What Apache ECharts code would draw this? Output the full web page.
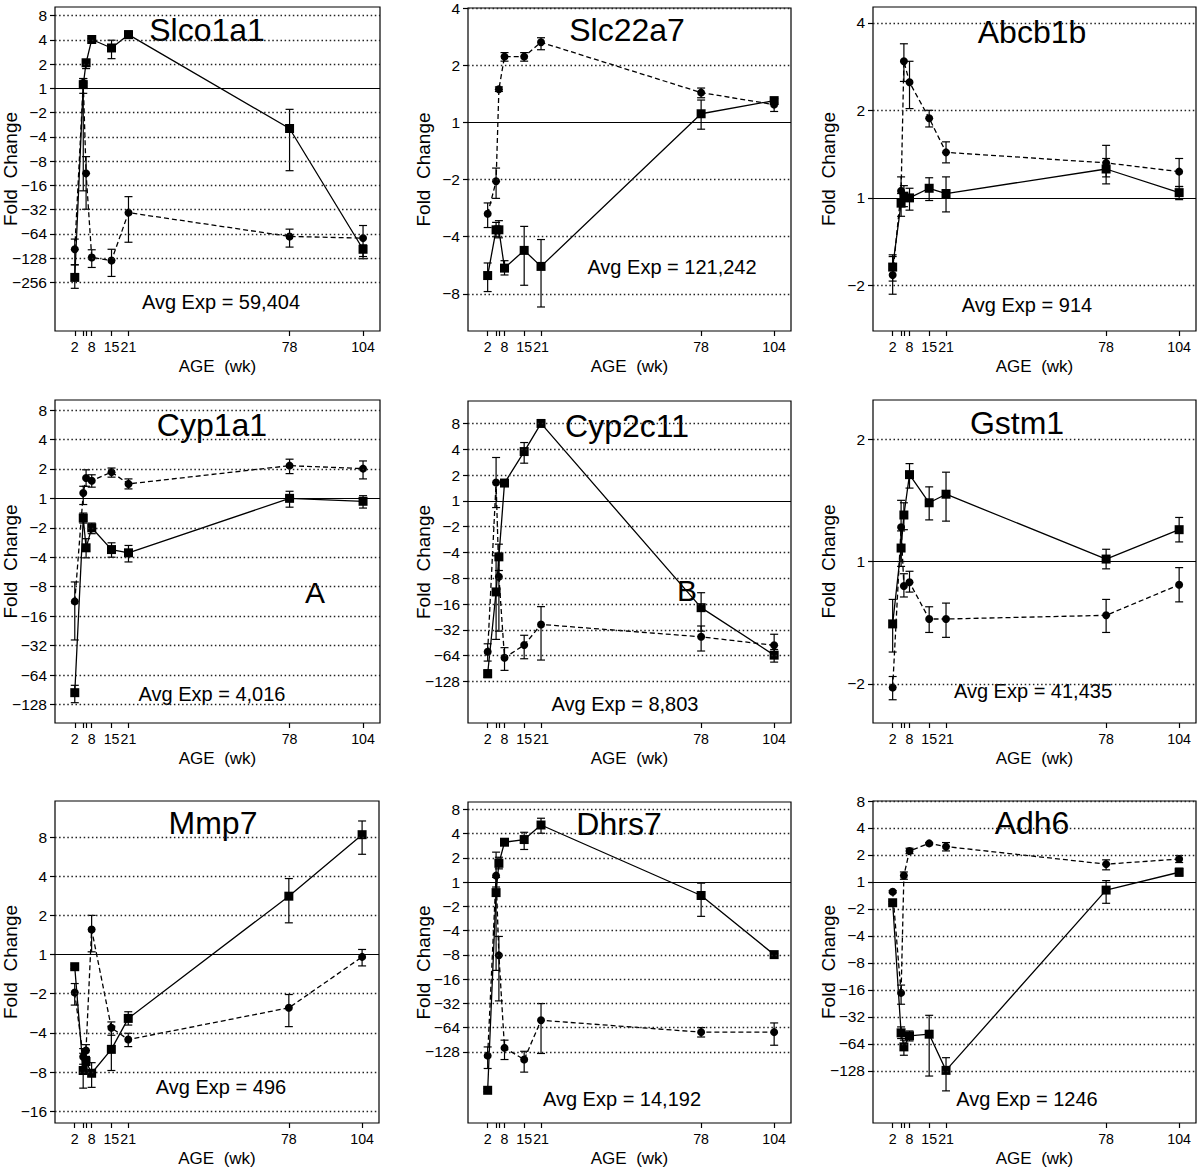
<!DOCTYPE html>
<html><head><meta charset="utf-8">
<script src="https://cdn.jsdelivr.net/npm/echarts@6/dist/echarts.min.js"></script>
<style>html,body{margin:0;padding:0;background:#fff}#c{width:1200px;height:1169px}</style>
</head><body><div id="c"></div><script>
// ---- data (values are log2 fold change: +1 = 2-fold up, -1 = 2-fold down) ----
const ages = [2, 5, 6, 8, 15, 21, 78, 104];
const xTickAges = [2, 5, 6, 8, 15, 21, 78, 104];
const xLabelAges = [2, 8, 15, 21, 78, 104];

const slco1a1Sq = [-7.79, 0.16, 1.06, 2.02, 1.67, 2.22, -1.65, -6.63];
const slco1a1SqErr = [[-8.24,-7.27],[-0.2,0.41],[0.82,1.19],[1.97,2.06],[1.23,1.99],[2.09,2.37],[-3.39,-0.86],[-7.02,-6.45]];
const slco1a1Ci = [-6.63, 0.23, -3.5, -6.97, -7.09, -5.12, -6.1, -6.17];
const slco1a1CiErr = [[-7.27,-6.21],[-4.22,0.41],[-4.98,-2.81],[-7.38,-6.65],[-7.75,-6.63],[-6.34,-4.46],[-6.54,-5.8],[-6.93,-5.65]];
const slco1a1Ticks = [8, 4, 2, 1, -2, -4, -8, -16, -32, -64, -128, -256];

const slc22a7Sq = [-2.68, -1.88, -1.88, -2.55, -2.24, -2.52, 0.15, 0.38];
const slc22a7SqErr = [[-2.96,-2.46],[-2.0,-1.75],[-2.02,-1.72],[-2.67,-2.42],[-2.85,-1.82],[-3.23,-2.05],[-0.12,0.39],[0.34,0.42]];
const slc22a7Ci = [-1.6, -1.03, 0.58, 1.15, 1.15, 1.4, 0.52, 0.31];
const slc22a7CiErr = [[-1.84,-1.41],[-1.33,-0.8],[0.54,0.62],[1.07,1.22],[1.07,1.22],[1.27,1.48],[0.43,0.6],[0.19,0.41]];
const slc22a7Ticks = [4, 2, 1, -2, -4, -8];

const abcb1bSq = [-0.79, -0.06, 0.02, 0, 0.11, 0.05, 0.33, 0.06];
const abcb1bSqErr = [[-0.95,-0.65],[-0.21,0.05],[-0.1,0.14],[-0.14,0.11],[-0.03,0.23],[-0.16,0.24],[0.16,0.45],[-0.02,0.13]];
const abcb1bCi = [-0.88, 0.08, 1.56, 1.32, 0.91, 0.52, 0.4, 0.3];
const abcb1bCiErr = [[-1.1,-0.67],[-0.06,0.24],[1.33,1.76],[1.02,1.56],[0.81,1.0],[0.4,0.64],[0.24,0.6],[0.13,0.45]];
const abcb1bTicks = [4, 2, 1, -2];

const cyp1a1Sq = [-6.6, -0.67, -1.68, -1.0, -1.74, -1.85, 0, -0.1];
const cyp1a1SqErr = [[-6.94,-6.35],[-0.84,-0.5],[-2.02,-1.37],[-1.2,-0.84],[-2.0,-1.51],[-2.16,-1.6],[-0.3,0.24],[-0.33,0.09]];
const cyp1a1Ci = [-3.5, 0.18, 0.69, 0.6, 0.89, 0.49, 1.11, 1.01];
const cyp1a1CiErr = [[-4.81,-2.84],[-0.21,0.41],[0.41,0.97],[0.38,0.8],[0.72,1.03],[0.32,0.66],[0.84,1.33],[0.66,1.27]];
const cyp1a1Ticks = [8, 4, 2, 1, -2, -4, -8, -16, -32, -64, -128];

const cyp2c11Sq = [-6.7, -3.53, -2.17, 0.69, 1.91, 3.0, -4.14, -5.98];
const cyp2c11SqErr = [[-6.85,-6.55],[-5.37,-2.13],[-2.7,-1.68],[0.65,0.73],[1.46,2.26],[2.95,3.05],[-5.05,-3.56],[-6.25,-5.76]];
const cyp2c11Ci = [-5.85, 0.71, -2.94, -6.08, -5.59, -4.79, -5.27, -5.6];
const cyp2c11CiErr = [[-6.21,-5.54],[-0.26,1.68],[-5.05,-2.2],[-6.57,-5.69],[-6.12,-5.21],[-6.17,-4.1],[-5.82,-4.85],[-6.02,-5.17]];
const cyp2c11Ticks = [8, 4, 2, 1, -2, -4, -8, -16, -32, -64, -128];

const gstm1Sq = [-0.51, 0.11, 0.38, 0.71, 0.48, 0.55, 0.02, 0.26];
const gstm1SqErr = [[-0.74,-0.31],[-0.04,0.25],[0.26,0.48],[0.6,0.8],[0.34,0.61],[0.33,0.73],[-0.06,0.1],[0.16,0.36]];
const gstm1Ci = [-1.03, 0.28, -0.2, -0.17, -0.47, -0.47, -0.44, -0.19];
const gstm1CiErr = [[-1.13,-0.94],[0.0,0.5],[-0.29,-0.1],[-0.25,-0.08],[-0.58,-0.37],[-0.62,-0.34],[-0.58,-0.31],[-0.33,-0.05]];
const gstm1Ticks = [2, 1, -2];

const mmp7Sq = [-0.31, -2.96, -2.73, -3.03, -2.42, -1.63, 1.49, 3.06];
const mmp7SqErr = [[-0.36,-0.26],[-3.41,-2.52],[-3.0,-2.45],[-3.39,-2.76],[-2.96,-1.83],[-1.8,-1.46],[0.81,1.94],[2.56,3.41]];
const mmp7Ci = [-0.97, -2.61, -2.45, 0.64, -1.87, -2.17, -1.36, -0.06];
const mmp7CiErr = [[-1.29,-0.74],[-2.8,-2.4],[-2.6,-2.3],[0.07,1.0],[-2.06,-1.72],[-2.35,-2.01],[-1.84,-1.02],[-0.29,0.13]];
const mmp7Ticks = [8, 4, 2, 1, -2, -4, -8, -16];

const dhrs7Sq = [-8.59, -0.43, 0.78, 1.65, 1.76, 2.36, -0.55, -2.99];
const dhrs7SqErr = [[-8.65,-8.53],[-3.64,0.2],[0.55,1.03],[1.6,1.7],[1.35,2.06],[2.02,2.64],[-1.41,-0.04],[-3.04,-2.94]];
const dhrs7Ci = [-7.16, 0.27, -3.02, -6.84, -7.32, -5.7, -6.19, -6.19];
const dhrs7CiErr = [[-7.69,-6.8],[-0.2,1.24],[-4.9,-2.24],[-7.32,-6.52],[-7.84,-6.98],[-7.07,-5.01],[-6.39,-6.0],[-6.73,-5.81]];
const dhrs7Ticks = [8, 4, 2, 1, -2, -4, -8, -16, -32, -64, -128];

const adh6Sq = [-0.77, -5.59, -6.11, -5.7, -5.64, -6.98, -0.3, 0.36];
const adh6SqErr = [[-0.82,-0.72],[-5.8,-5.37],[-6.42,-5.86],[-5.89,-5.52],[-7.19,-4.94],[-7.74,-6.51],[-0.79,0.05],[0.22,0.51]];
const adh6Ci = [-0.36, -4.11, 0.24, 1.15, 1.43, 1.31, 0.66, 0.85];
const adh6CiErr = [[-0.4,-0.32],[-4.53,-3.82],[0.1,0.37],[1.05,1.25],[1.4,1.46],[1.15,1.46],[0.45,0.82],[0.72,0.98]];
const adh6Ticks = [8, 4, 2, 1, -2, -4, -8, -16, -32, -64, -128];

const geneNames = ['Slco1a1','Slc22a7','Abcb1b','Cyp1a1','Cyp2c11','Gstm1','Mmp7','Dhrs7','Adh6'];
const avgExpTexts = ['Avg Exp = 59,404','Avg Exp = 121,242','Avg Exp = 914','Avg Exp = 4,016','Avg Exp = 8,803','Avg Exp = 41,435','Avg Exp = 496','Avg Exp = 14,192','Avg Exp = 1246'];

const panels = [
  {sq: slco1a1Sq, sqErr: slco1a1SqErr, ci: slco1a1Ci, ciErr: slco1a1CiErr, ticks: slco1a1Ticks},
  {sq: slc22a7Sq, sqErr: slc22a7SqErr, ci: slc22a7Ci, ciErr: slc22a7CiErr, ticks: slc22a7Ticks},
  {sq: abcb1bSq, sqErr: abcb1bSqErr, ci: abcb1bCi, ciErr: abcb1bCiErr, ticks: abcb1bTicks},
  {sq: cyp1a1Sq, sqErr: cyp1a1SqErr, ci: cyp1a1Ci, ciErr: cyp1a1CiErr, ticks: cyp1a1Ticks},
  {sq: cyp2c11Sq, sqErr: cyp2c11SqErr, ci: cyp2c11Ci, ciErr: cyp2c11CiErr, ticks: cyp2c11Ticks},
  {sq: gstm1Sq, sqErr: gstm1SqErr, ci: gstm1Ci, ciErr: gstm1CiErr, ticks: gstm1Ticks},
  {sq: mmp7Sq, sqErr: mmp7SqErr, ci: mmp7Ci, ciErr: mmp7CiErr, ticks: mmp7Ticks},
  {sq: dhrs7Sq, sqErr: dhrs7SqErr, ci: dhrs7Ci, ciErr: dhrs7CiErr, ticks: dhrs7Ticks},
  {sq: adh6Sq, sqErr: adh6SqErr, ci: adh6Ci, ciErr: adh6CiErr, ticks: adh6Ticks}
];

// ---- layout (pixels) ----
const layout = [
  {left:55,  top:7,   width:325, height:324, yMin:-10,   yMax:3.36, title:[207,30],  avg:[221,302]},
  {left:468, top:8,   width:323, height:323, yMin:-3.65, yMax:2.0,  title:[627,30],  avg:[672,267]},
  {left:873, top:7,   width:323, height:324, yMin:-1.52, yMax:2.18, title:[1032,32], avg:[1027,305]},
  {left:55,  top:400, width:325, height:323, yMin:-7.63, yMax:3.34, title:[212,425], avg:[212,694]},
  {left:468, top:401, width:323, height:322, yMin:-8.61, yMax:3.87, title:[627,426], avg:[625,704]},
  {left:873, top:400, width:323, height:323, yMin:-1.32, yMax:1.32, title:[1017,423], avg:[1033,691]},
  {left:55,  top:801, width:324, height:322, yMin:-4.3,  yMax:3.92, title:[213,823], avg:[221,1087]},
  {left:468, top:802, width:323, height:321, yMin:-9.94, yMax:3.31, title:[619,824], avg:[622,1099]},
  {left:873, top:801, width:323, height:322, yMin:-8.93, yMax:3.0,  title:[1032,823], avg:[1027,1099]}
];

const FONT = '"Liberation Sans", Arial, Helvetica, sans-serif';
const toLog = f => f > 0 ? Math.log2(f) : -Math.log2(-f);
const foldLabel = v => { const r = Math.round(v); return r >= 0 ? String(Math.pow(2, r)) : '\u2212' + String(Math.pow(2, -r)); };

function renderErr(params, api) {
  const x = api.value(0), lo = api.value(1), hi = api.value(2);
  const p1 = api.coord([x, lo]), p2 = api.coord([x, hi]);
  const w = 4;
  const st = {stroke: '#000', lineWidth: 1.2};
  return {type: 'group', children: [
    {type: 'line', shape: {x1: p1[0], y1: p1[1], x2: p2[0], y2: p2[1]}, style: st},
    {type: 'line', shape: {x1: p1[0]-w, y1: p1[1], x2: p1[0]+w, y2: p1[1]}, style: st},
    {type: 'line', shape: {x1: p2[0]-w, y1: p2[1], x2: p2[0]+w, y2: p2[1]}, style: st}
  ]};
}

const grids = [], xAxes = [], yAxes = [], series = [], graphics = [];
panels.forEach((p, i) => {
  const l = layout[i];
  const tickLogs = p.ticks.map(toLog);
  grids.push({left: l.left, top: l.top, width: l.width, height: l.height, show: true,
    borderColor: '#000', borderWidth: 1.2, backgroundColor: 'transparent', containLabel: false, outerBoundsMode: 'none'});
  xAxes.push({gridIndex: i, type: 'value', min: -5, max: 110,
    axisLine: {show: false, onZero: false}, splitLine: {show: false},
    axisTick: {show: true, customValues: xTickAges, length: 5, lineStyle: {color: '#000', width: 1.2}},
    axisLabel: {customValues: xLabelAges, fontSize: 14.2, color: '#000', margin: 9, fontFamily: FONT},
    name: 'AGE  (wk)', nameLocation: 'middle', nameGap: 27, nameMoveOverlap: false,
    nameTextStyle: {fontSize: 17, color: '#000', fontFamily: FONT}});
  yAxes.push({gridIndex: i, type: 'value', min: l.yMin, max: l.yMax,
    axisLine: {show: false, onZero: false}, splitLine: {show: false},
    axisTick: {show: true, customValues: tickLogs, length: 5, lineStyle: {color: '#000', width: 1.2}},
    axisLabel: {customValues: tickLogs, formatter: foldLabel, fontSize: 15.5, lineHeight: 14, color: '#000', margin: 8, fontFamily: FONT},
    name: 'Fold  Change', nameLocation: 'middle', nameGap: 35, nameMoveOverlap: false,
    nameTextStyle: {fontSize: 19, color: '#000', fontFamily: FONT}});
  const errData = ages.map((a, k) => [a, p.sqErr[k][0], p.sqErr[k][1]])
    .concat(ages.map((a, k) => [a, p.ciErr[k][0], p.ciErr[k][1]]));
  series.push({type: 'custom', xAxisIndex: i, yAxisIndex: i, renderItem: renderErr,
    data: errData, encode: {x: 0, y: [1, 2]}, z: 1, silent: true, animation: false,
    markLine: {silent: true, symbol: 'none', label: {show: false}, animation: false,
      data: tickLogs.map(v => ({yAxis: v, lineStyle: v === 0
        ? {type: 'solid', color: '#000', width: 1.2}
        : {type: [1.5, 2.6], color: '#222', width: 1.3}}))}});
  series.push({type: 'line', xAxisIndex: i, yAxisIndex: i, data: ages.map((a, k) => [a, p.ci[k]]),
    symbol: 'circle', symbolSize: 8, z: 3, animation: false, silent: true,
    lineStyle: {color: '#000', width: 1.3, type: [5, 3]}, itemStyle: {color: '#000'}});
  series.push({type: 'line', xAxisIndex: i, yAxisIndex: i, data: ages.map((a, k) => [a, p.sq[k]]),
    symbol: 'rect', symbolSize: 9, z: 4, animation: false, silent: true,
    lineStyle: {color: '#000', width: 1.3}, itemStyle: {color: '#000'}});
  graphics.push({type: 'text', x: l.title[0], y: l.title[1],
    style: {text: geneNames[i], fontSize: 32, fontFamily: FONT, fill: '#000', align: 'center', verticalAlign: 'middle'}});
  graphics.push({type: 'text', x: l.avg[0], y: l.avg[1],
    style: {text: avgExpTexts[i], fontSize: 20, fontFamily: FONT, fill: '#000', align: 'center', verticalAlign: 'middle'}});
});
graphics.push({type: 'text', x: 315, y: 592, style: {text: 'A', fontSize: 30, fontFamily: FONT, fill: '#000', align: 'center', verticalAlign: 'middle'}});
graphics.push({type: 'text', x: 687, y: 590, style: {text: 'B', fontSize: 30, fontFamily: FONT, fill: '#000', align: 'center', verticalAlign: 'middle'}});

const chart = echarts.init(document.getElementById('c'), null, {renderer: 'svg'});
chart.setOption({
  animation: false,
  backgroundColor: '#fff',
  grid: grids, xAxis: xAxes, yAxis: yAxes, series: series, graphic: graphics
});
</script></body></html>
